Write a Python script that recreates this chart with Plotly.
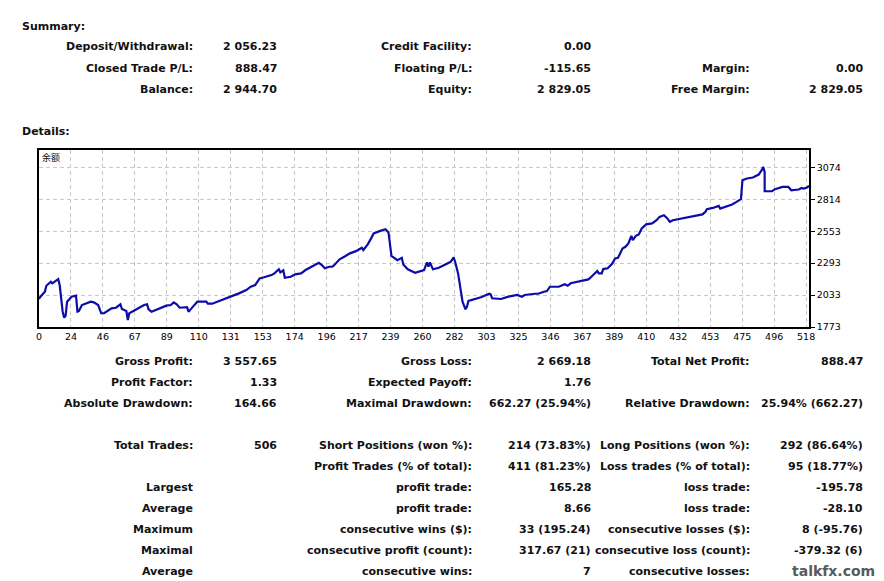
import plotly.graph_objects as go

# ---------------- data ----------------
trade_no = [0, 1, 4, 5, 8, 9, 13, 14, 16, 17, 18, 19, 22, 25, 26, 27, 29, 33, 35, 37, 40, 42, 44, 49, 52, 55, 56,
            59, 60, 61, 63, 68, 71, 73, 74, 76, 79, 82, 86, 89, 91, 93, 95, 100, 101, 104, 107, 113, 114, 117, 122,
            130, 135, 140, 143, 146, 149, 152, 157, 159, 162, 163, 165, 166, 170, 173, 177, 180, 182, 186, 189, 191,
            193, 196, 198,
            199, 203, 207, 210, 214, 218, 219, 222, 224, 226, 230, 234, 236, 237, 238, 242, 245, 246, 249, 254, 258,
            260, 262, 263, 264, 266, 270, 274, 278, 280, 281, 283, 285, 286, 288, 289, 290, 295, 299, 304, 305, 306,
            312, 317, 323, 326, 328, 335,
            337, 341, 343, 345, 351, 355, 357, 359, 364, 367, 371, 373, 376, 377, 378, 380, 381, 384, 387, 389, 391,
            394, 396, 398, 400, 401, 403, 405, 407, 410, 414, 417, 419, 422, 424, 426, 428, 432, 437, 443, 448, 450,
            451, 455, 459, 460, 464, 468, 471, 474, 475, 478, 482, 486, 488, 489, 490, 490, 495, 497, 502, 506, 508,
            513, 515, 516, 518, 520]
balance = [2001, 2020, 2060, 2109, 2142, 2129, 2164, 2115, 1898, 1849, 1865, 1979, 2020, 2028, 1898, 1904, 1952, 1966,
           1979, 1974, 1952, 1885, 1885, 1925, 1930, 1958, 1920, 1904, 1830, 1885, 1898, 1934, 1952, 1958, 1917, 1898,
           1912, 1930, 1947, 1952, 1974, 1958, 1930, 1934, 1898, 1939, 1979, 1979, 1963, 1963, 1985, 2020, 2047, 2074,
           2101, 2115, 2169, 2178, 2196, 2210, 2243, 2218, 2234, 2174, 2182, 2202, 2210, 2237, 2251, 2278, 2296, 2278,
           2251, 2264, 2264,
           2272, 2324, 2351, 2373, 2391, 2418, 2400, 2446, 2489, 2535, 2554, 2570, 2543, 2440, 2353, 2318, 2337, 2283,
           2243, 2215, 2229, 2237, 2300, 2264, 2300, 2243, 2256, 2278, 2304, 2340, 2304, 2210, 2074, 1979, 1917, 1939,
           1985, 2001, 2017, 2044, 2039, 2007, 2001, 2020, 2034, 2020, 2034, 2044,
           2044, 2060, 2066, 2101, 2101, 2121, 2109, 2129, 2142, 2156, 2161, 2182, 2223, 2229, 2210, 2210, 2245, 2251,
           2288, 2332, 2337, 2413, 2426, 2454, 2516, 2481, 2516, 2527, 2576, 2609, 2617, 2643, 2670, 2684, 2662, 2630,
           2643, 2652, 2662, 2678, 2690, 2711, 2733, 2743, 2760, 2738, 2752, 2771, 2792, 2814, 2969, 2983, 2991, 3015,
           3050, 3077, 3036, 2879, 2879, 2896, 2914, 2914, 2887, 2893, 2906, 2901, 2906, 2922]

x_tick_labels = ["0", "24", "46", "67", "89", "110", "131", "153", "174", "196", "217", "239", "260", "282",
                 "303", "325", "346", "367", "389", "410", "432", "453", "475", "496", "518"]
y_tick_labels = ["1773", "2033", "2293", "2553", "2814", "3074"]
y_min, y_step = 1773, 260.2
x_step = 518 / 24

summary_rows = [
    ["Deposit/Withdrawal:", "2 056.23", "Credit Facility:", "0.00", "", ""],
    ["Closed Trade P/L:", "888.47", "Floating P/L:", "-115.65", "Margin:", "0.00"],
    ["Balance:", "2 944.70", "Equity:", "2 829.05", "Free Margin:", "2 829.05"],
]
stats_rows = [
    ["Gross Profit:", "3 557.65", "Gross Loss:", "2 669.18", "Total Net Profit:", "888.47"],
    ["Profit Factor:", "1.33", "Expected Payoff:", "1.76", "", ""],
    ["Absolute Drawdown:", "164.66", "Maximal Drawdown:", "662.27 (25.94%)", "Relative Drawdown:", "25.94% (662.27)"],
]
trade_rows = [
    ["Total Trades:", "506", "Short Positions (won %):", "214 (73.83%)", "Long Positions (won %):", "292 (86.64%)"],
    ["", "", "Profit Trades (% of total):", "411 (81.23%)", "Loss trades (% of total):", "95 (18.77%)"],
    ["Largest", "", "profit trade:", "165.28", "loss trade:", "-195.78"],
    ["Average", "", "profit trade:", "8.66", "loss trade:", "-28.10"],
    ["Maximum", "", "consecutive wins ($):", "33 (195.24)", "consecutive losses ($):", "8 (-95.76)"],
    ["Maximal", "", "consecutive profit (count):", "317.67 (21)", "consecutive loss (count):", "-379.32 (6)"],
    ["Average", "", "consecutive wins:", "7", "consecutive losses:", ""],
]

# ---------------- layout helpers ----------------
REF_W, REF_H = 884, 581          # reference picture size (positions below are read in it)
W, H = 892, 586                  # figure size
FONT = "DejaVu Sans"
FS = 11


def px(x):
    return x / REF_W


def py(y):
    return 1 - y / REF_H


fig = go.Figure()
fig.add_trace(go.Scatter(x=trade_no, y=balance, mode="lines",
                         line=dict(color="#0c0ca8", width=2.2), hoverinfo="skip", showlegend=False))

annotations = []


def add_text(text, x, y, anchor="right", size=FS, color="#111111", family=FONT, weight="bold"):
    if not text:
        return
    shift = 0 if anchor == "right" else -3
    annotations.append(dict(text=text, x=px(x + shift), y=py(y), xref="paper", yref="paper",
                            xanchor=anchor, yanchor="middle", showarrow=False,
                            font=dict(family=family, size=size, color=color, weight=weight)))


col_right = [192, 276, 472, 591, 750, 863]


def add_rows(rows, y0, dy=21):
    for i, row in enumerate(rows):
        for j, txt in enumerate(row):
            add_text(txt, col_right[j], y0 + i * dy)


add_text("Summary:", 20, 27, anchor="left")
add_rows(summary_rows, 47)
add_text("Details:", 20, 131, anchor="left")
add_rows(stats_rows, 361)
add_rows(trade_rows, 445)
add_text("余额", 40, 157, anchor="left", size=9, family="Noto Sans CJK SC", weight="normal")
add_text("talkfx.com", 875, 571, anchor="right", size=14, color="#5a5a5a", family="DejaVu Sans")

x_left, x_right, y_top, y_bot = 36, 807, 149.5, 327

fig.update_layout(
    width=W, height=H,
    margin=dict(l=0, r=0, t=0, b=0),
    paper_bgcolor="white", plot_bgcolor="white",
    annotations=annotations,
    xaxis=dict(domain=[px(x_left), px(x_right)], range=[0, 520],
               tickvals=[i * x_step for i in range(len(x_tick_labels))], ticktext=x_tick_labels,
               showgrid=True, gridcolor="#c8c8c8", griddash="4px,3px", gridwidth=1,
               showline=True, linecolor="black", linewidth=1.5, mirror=True,
               ticks="", zeroline=False,
               tickfont=dict(family="DejaVu Sans", size=9.5, color="black")),
    yaxis=dict(domain=[py(y_bot), py(y_top)], range=[1773, 3219], side="right",
               tickvals=[y_min + i * y_step for i in range(len(y_tick_labels))], ticktext=y_tick_labels,
               showgrid=True, gridcolor="#c8c8c8", griddash="4px,3px", gridwidth=1,
               showline=True, linecolor="black", linewidth=1.5, mirror=True,
               ticks="outside", ticklen=4, tickcolor="black", zeroline=False,
               tickfont=dict(family="DejaVu Sans", size=9.5, color="black")),
)

page_fix = (
    "document.body.style.margin='0px';"
    "document.body.style.overflow='hidden';"
    "document.documentElement.style.overflow='hidden';"
)

fig.write_html("out.html", config={"displayModeBar": False}, post_script=page_fix)
